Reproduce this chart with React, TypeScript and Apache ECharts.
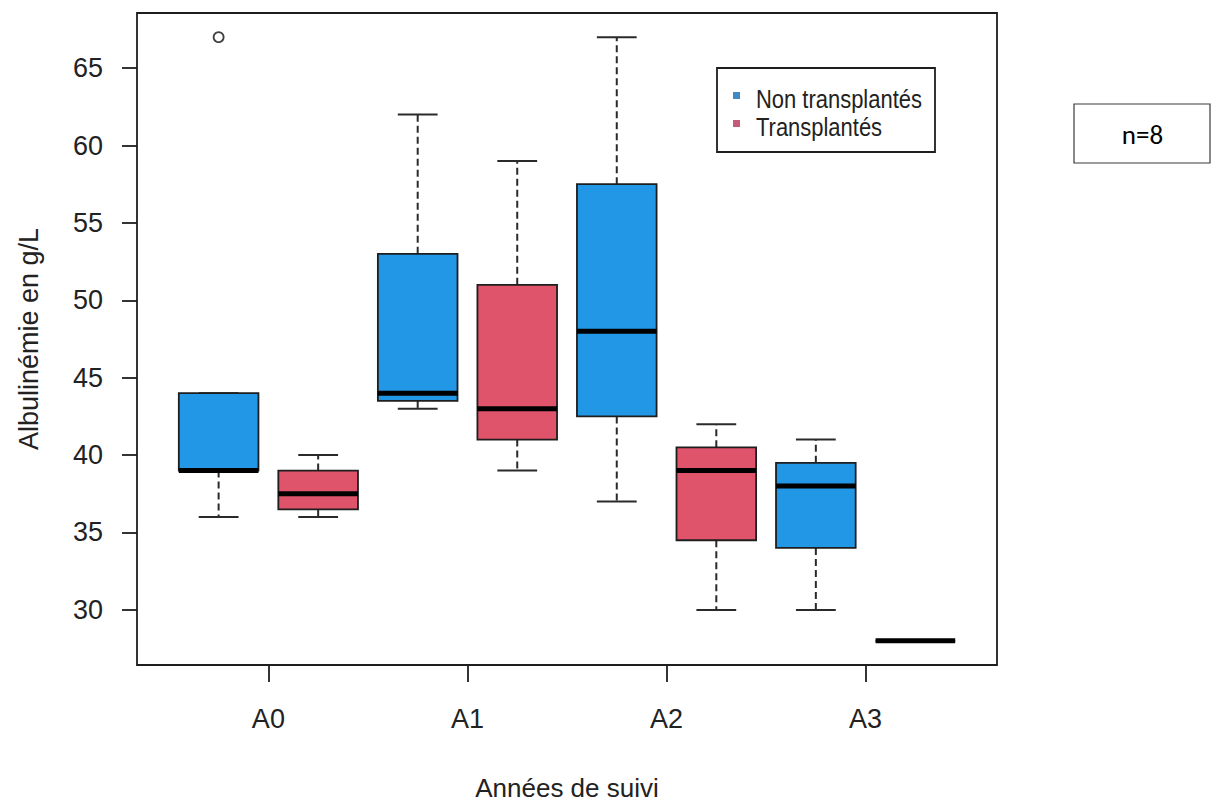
import React, { useEffect, useRef } from "react";
import * as echarts from "echarts";

// ---- Data ----
const categories = ["A0", "A1", "A2", "A3"];
const seriesNames = ["Non transplantés", "Transplantés"];
const seriesColors = ["#2297E6", "#DF536B"];
const legendColors = ["#3F8AC5", "#C25A78"];
// [min, Q1, median, Q3, max]
const nonTransplantes = [
  [36, 39, 39, 44, 44],
  [43, 43.5, 44, 53, 62],
  [37, 42.5, 48, 57.5, 67],
  [30, 34, 38, 39.5, 41],
];
const transplantes = [
  [36, 36.5, 37.5, 39, 40],
  [39, 41, 43, 51, 59],
  [30, 34.5, 39, 40.5, 42],
  [28, 28, 28, 28, 28],
];
// [category index, series index, value]
const outliers = [[0, 0, 67]];
const yTicks = [30, 35, 40, 45, 50, 55, 60, 65];
const xTitle = "Années de suivi";
const yTitle = "Albulinémie en g/L";
const sampleNote = "n=8";

const FONT = "'Liberation Sans', Arial, Helvetica, sans-serif";
const INK = "#1e1e1e";
const TEXT = "#222";

const boxPos = (cat: number, s: number) => cat * 2 + s + 1;
const tickPos = categories.map((_, i) => i * 2 + 1.5);

function makeBoxSeries(name: string, color: string, values: number[][], s: number) {
  return {
    type: "custom",
    name,
    itemStyle: { color },
    encode: { x: 0, y: [1, 2, 3, 4, 5] },
    data: values.map((v, i) => [boxPos(i, s), ...v]),
    renderItem: (params: any, api: any) => {
      const pos = api.value(0);
      const lo = api.value(1);
      const q1 = api.value(2);
      const med = api.value(3);
      const q3 = api.value(4);
      const hi = api.value(5);
      const w = api.size([0.8, 0])[0];
      const half = w / 2;
      const capHalf = w / 4;
      const [cx, yLo] = api.coord([pos, lo]);
      const yQ1 = api.coord([pos, q1])[1];
      const yMed = api.coord([pos, med])[1];
      const yQ3 = api.coord([pos, q3])[1];
      const yHi = api.coord([pos, hi])[1];
      const dashed = { stroke: "#2a2a2a", lineWidth: 2, lineDash: [7, 4] };
      const solid = { stroke: "#2a2a2a", lineWidth: 2 };
      return {
        type: "group",
        children: [
          { type: "line", shape: { x1: cx, y1: yQ3, x2: cx, y2: yHi }, style: dashed },
          { type: "line", shape: { x1: cx, y1: yQ1, x2: cx, y2: yLo }, style: dashed },
          { type: "line", shape: { x1: cx - capHalf, y1: yHi, x2: cx + capHalf, y2: yHi }, style: solid },
          { type: "line", shape: { x1: cx - capHalf, y1: yLo, x2: cx + capHalf, y2: yLo }, style: solid },
          {
            type: "rect",
            shape: { x: cx - half, y: yQ3, width: w, height: yQ1 - yQ3 },
            style: { fill: color, stroke: INK, lineWidth: 1.8 },
          },
          {
            type: "line",
            shape: { x1: cx - half, y1: yMed, x2: cx + half, y2: yMed },
            style: { stroke: "#000", lineWidth: 5 },
          },
        ],
      };
    },
  };
}

export default function App() {
  const ref = useRef<HTMLDivElement>(null);
  useEffect(() => {
    if (!ref.current) return;
    const chart = echarts.init(ref.current, null, { renderer: "svg" });
    const option: any = {
      animation: false,
      backgroundColor: "#fff",
      grid: {
        left: 137,
        right: 214,
        top: 13,
        bottom: 138,
        show: true,
        borderColor: INK,
        borderWidth: 1.8,
        backgroundColor: "transparent",
      },
      xAxis: {
        type: "value",
        min: 0.18,
        max: 8.82,
        axisLine: { show: false },
        splitLine: { show: false },
        axisTick: { show: true, length: 17, customValues: tickPos, lineStyle: { color: INK, width: 1.8 } },
        axisLabel: {
          customValues: tickPos,
          formatter: (v: number) => categories[Math.round((v - 1.5) / 2)],
          fontSize: 27,
          color: TEXT,
          fontFamily: FONT,
          margin: 40,
        },
      },
      yAxis: {
        type: "value",
        min: 26.44,
        max: 68.56,
        axisLine: { show: false },
        splitLine: { show: false },
        axisTick: { show: true, length: 15, customValues: yTicks, lineStyle: { color: INK, width: 1.8 } },
        axisLabel: {
          customValues: yTicks,
          fontSize: 27,
          color: TEXT,
          fontFamily: FONT,
          margin: 34,
        },
      },
      series: [
        makeBoxSeries(seriesNames[0], seriesColors[0], nonTransplantes, 0),
        makeBoxSeries(seriesNames[1], seriesColors[1], transplantes, 1),
        {
          type: "scatter",
          name: "outliers",
          symbol: "circle",
          symbolSize: 10,
          itemStyle: { color: "#fff", borderColor: "#111", borderWidth: 1.8 },
          data: outliers.map(([c, s, v]) => [boxPos(c, s), v]),
          z: 5,
        },
      ],
      graphic: [
        {
          type: "text",
          x: 29,
          y: 339,
          rotation: Math.PI / 2,
          style: {
            text: yTitle,
            fontSize: 27,
            fontFamily: FONT,
            fill: TEXT,
            align: "center",
            verticalAlign: "middle",
          },
        },
        {
          type: "text",
          x: 567,
          y: 788,
          style: {
            text: xTitle,
            fontSize: 26,
            lineHeight: 26,
            fontFamily: FONT,
            fill: TEXT,
            align: "center",
            verticalAlign: "middle",
          },
        },
        {
          type: "rect",
          shape: { x: 717, y: 68, width: 218, height: 84 },
          style: { fill: "#fff", stroke: INK, lineWidth: 1.8 },
          z: 10,
        },
        {
          type: "rect",
          shape: { x: 733, y: 92, width: 7, height: 7 },
          style: { fill: legendColors[0] },
          z: 11,
        },
        {
          type: "rect",
          shape: { x: 733, y: 120, width: 7, height: 7 },
          style: { fill: legendColors[1] },
          z: 11,
        },
        {
          type: "text",
          x: 756,
          y: 99,
          scaleX: 0.845,
          z: 11,
          style: { text: seriesNames[0], fontSize: 26, fontFamily: FONT, fill: TEXT, align: "left", verticalAlign: "middle" },
        },
        {
          type: "text",
          x: 756,
          y: 127,
          scaleX: 0.845,
          z: 11,
          style: { text: seriesNames[1], fontSize: 26, fontFamily: FONT, fill: TEXT, align: "left", verticalAlign: "middle" },
        },
        {
          type: "rect",
          shape: { x: 1074, y: 104, width: 136, height: 59 },
          style: { fill: "#fff", stroke: "#3a3a3a", lineWidth: 1.2 },
        },
        {
          type: "text",
          x: 1142.5,
          y: 134,
          style: {
            text: sampleNote,
            fontSize: 27,
            fontFamily: "Carlito, Lato, 'Open Sans', sans-serif",
            fill: "#000",
            align: "center",
            verticalAlign: "middle",
          },
        },
      ],
    };
    chart.setOption(option);
    return () => chart.dispose();
  }, []);
  return (
    <div
      ref={ref}
      style={{ position: "absolute", left: 0, top: 0, width: 1211, height: 803, background: "#fff" }}
    />
  );
}
